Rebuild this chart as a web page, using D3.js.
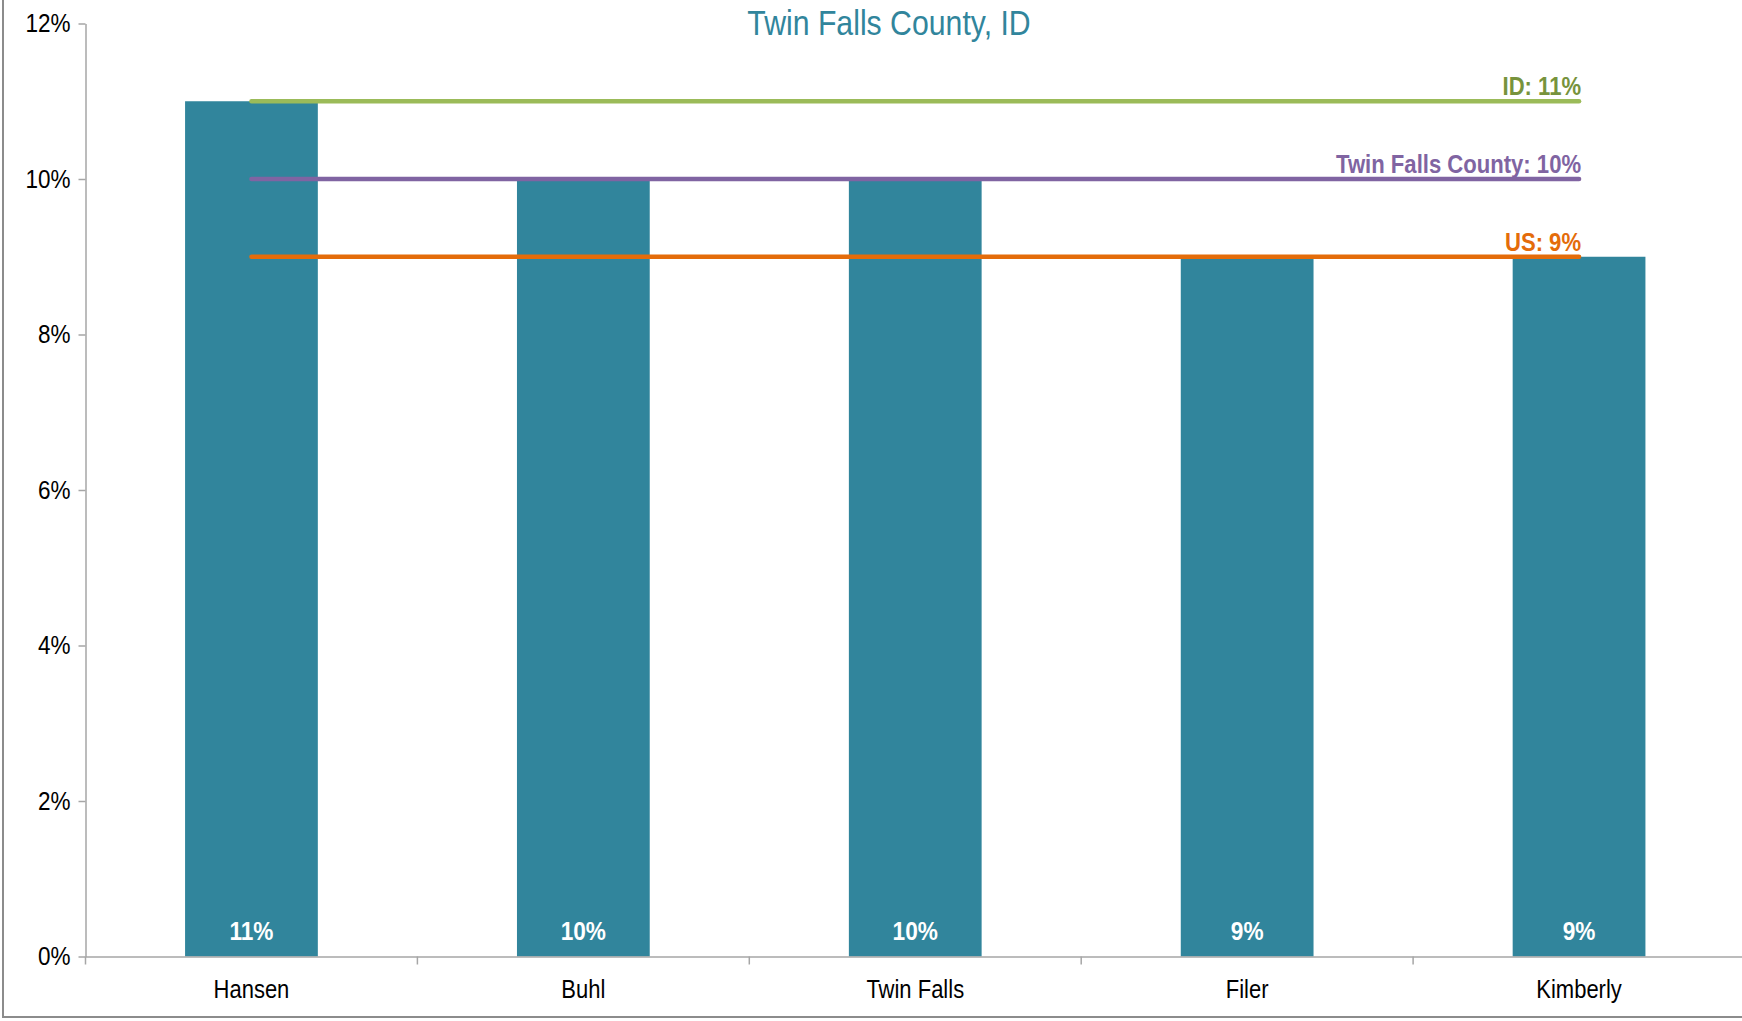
<!DOCTYPE html>
<html>
<head>
<meta charset="utf-8">
<script src="https://cdn.jsdelivr.net/npm/d3@7"></script>
<style>
  body { margin: 0; background: #fff; }
  svg { display: block; }
  text { font-family: "Liberation Sans", Arial, sans-serif; }
</style>
</head>
<body>
<div id="chart"></div>
<script>
var categories = ["Hansen", "Buhl", "Twin Falls", "Filer", "Kimberly"]
var values = [0.11, 0.10, 0.10, 0.09, 0.09]
var refNames = ["ID", "Twin Falls County", "US"]
var refValues = [0.11, 0.10, 0.09]
var yTicks = [0, 0.02, 0.04, 0.06, 0.08, 0.10, 0.12]
var title = "Twin Falls County, ID"

var width = 1742, height = 1021
var margin = {top: 23.5, left: 85.5, bottom: 64.5, right: -3}
var refColors = {"ID": "#9BBB59", "Twin Falls County": "#8064A2", "US": "#E46C0A"}
var refTextColors = {"ID": "#77933C", "Twin Falls County": "#8064A2", "US": "#E46C0A"}
var pct = d3.format(".0%")

// no narrow font installed, so squeeze text horizontally
function squeeze(sel, s, px, py) {
    sel.attr("x", 0).attr("y", 0)
        .attr("transform", function(d, i) {
            return "translate(" + px(d, i) + "," + py(d, i) + ") scale(" + s + ",1)"
        })
}

var svg = d3.select("#chart").append("svg")
    .attr("width", width).attr("height", height)

// outer frame (top and right are cut off)
svg.append("rect")
    .attr("x", 3).attr("y", -10)
    .attr("width", width + 10).attr("height", 1027)
    .attr("fill", "none").attr("stroke", "#8c8c8c").attr("stroke-width", 2)

var x = d3.scaleBand()
    .domain(categories)
    .range([margin.left, width - margin.right])
    .paddingInner(0.6)
    .paddingOuter(0.3)

var y = d3.scaleLinear()
    .domain([0, 0.12])
    .range([height - margin.bottom, margin.top])

// title
svg.append("text")
    .attr("text-anchor", "middle")
    .attr("font-size", 36)
    .attr("fill", "#31859C")
    .text(title)
    .call(squeeze, 0.84, function() { return 889 }, function() { return 35 })

// bars
svg.append("g").selectAll("rect")
    .data(values)
    .enter().append("rect")
    .attr("x", function(d, i) { return x(categories[i]) })
    .attr("y", function(d) { return y(d) })
    .attr("width", x.bandwidth())
    .attr("height", function(d) { return y(0) - y(d) })
    .attr("fill", "#31859C")

// bar value labels
svg.append("g").selectAll("text")
    .data(values)
    .enter().append("text")
    .attr("text-anchor", "middle")
    .attr("font-size", 26)
    .attr("font-weight", "bold")
    .attr("fill", "#fff")
    .text(function(d) { return pct(d) })
    .call(squeeze, 0.87,
        function(d, i) { return x(categories[i]) + x.bandwidth() / 2 },
        function() { return y(0) - 17 })

// y axis
var yAxis = svg.append("g")
    .attr("transform", "translate(" + margin.left + ",0)")
    .call(d3.axisLeft(y).tickValues(yTicks).tickFormat(pct).tickSize(7).tickSizeOuter(0).tickPadding(6))
yAxis.select(".domain").attr("stroke", "#a6a6a6").attr("stroke-width", 1.5)
yAxis.selectAll(".tick line").attr("stroke", "#a6a6a6").attr("stroke-width", 1.5)
yAxis.selectAll(".tick text")
    .attr("font-family", null)
    .attr("font-size", 25)
    .attr("fill", "#000")
    .call(squeeze, 0.9, function() { return -15 }, function() { return 0 })

// x axis
var xAxis = svg.append("g")
    .attr("transform", "translate(0," + y(0) + ")")
    .call(d3.axisBottom(x).tickSize(0).tickSizeOuter(0))
xAxis.select(".domain").attr("stroke", "#a6a6a6").attr("stroke-width", 1.5)
xAxis.selectAll(".tick text")
    .attr("font-family", null)
    .attr("font-size", 25)
    .attr("fill", "#000")
    .attr("dy", null)
    .call(squeeze, 0.88, function() { return 0 }, function() { return 41 })

// category boundary ticks
xAxis.selectAll(".bound")
    .data(d3.range(categories.length + 1))
    .enter().append("line")
    .attr("x1", function(i) { return margin.left + i * x.step() })
    .attr("x2", function(i) { return margin.left + i * x.step() })
    .attr("y1", 0).attr("y2", 8)
    .attr("stroke", "#a6a6a6").attr("stroke-width", 1.5)

// reference lines
var x0 = x(categories[0]) + x.bandwidth() / 2
var x1 = x(categories[categories.length - 1]) + x.bandwidth() / 2

var refs = svg.append("g").selectAll("g")
    .data(refValues)
    .enter().append("g")

refs.append("line")
    .attr("x1", x0).attr("x2", x1)
    .attr("y1", function(d) { return y(d) })
    .attr("y2", function(d) { return y(d) })
    .attr("stroke", function(d, i) { return refColors[refNames[i]] })
    .attr("stroke-width", 4.5)
    .attr("stroke-linecap", "round")

refs.append("text")
    .attr("text-anchor", "end")
    .attr("font-size", 26)
    .attr("font-weight", "bold")
    .attr("fill", function(d, i) { return refTextColors[refNames[i]] })
    .text(function(d, i) { return refNames[i] + ": " + pct(d) })
    .call(squeeze, 0.85, function() { return x1 + 2 }, function(d) { return y(d) - 6 })
</script>
</body>
</html>
